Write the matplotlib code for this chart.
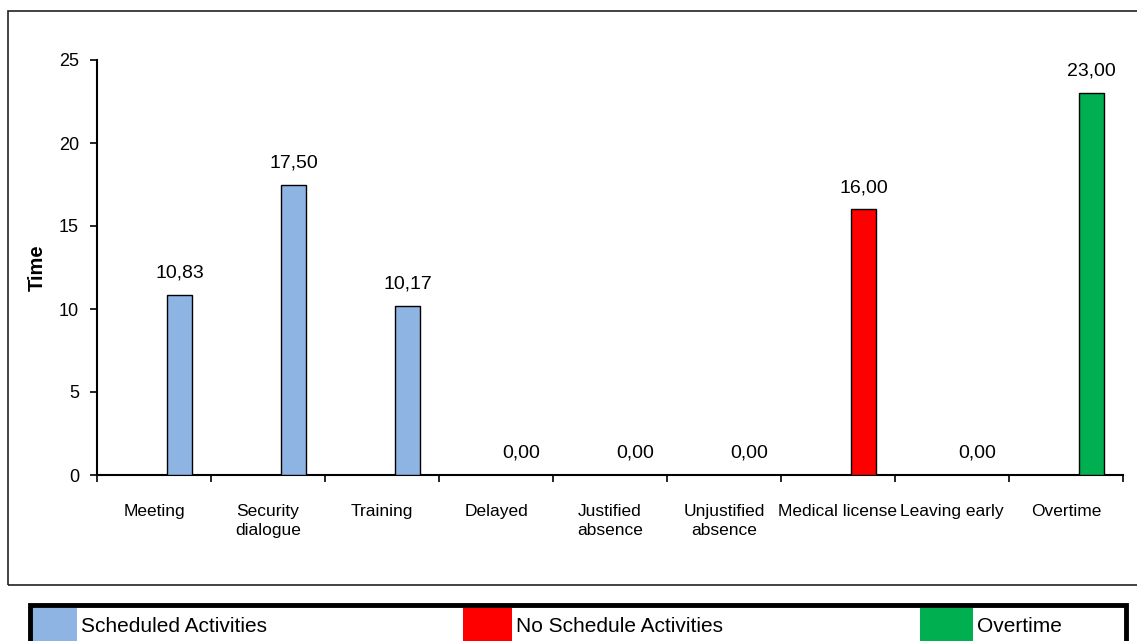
import matplotlib
matplotlib.use("Agg")
import matplotlib.pyplot as plt
from matplotlib.patches import Rectangle
from matplotlib import font_manager

categories = ["Meeting", "Security\ndialogue", "Training", "Delayed", "Justified\nabsence",
              "Unjustified\nabsence", "Medical license", "Leaving early", "Overtime"]
values = [10.83, 17.50, 10.17, 0.00, 0.00, 0.00, 16.00, 0.00, 23.00]
groups = ["sched", "sched", "sched", "sched", "sched", "sched", "nosched", "nosched", "over"]
legend_labels = ["Scheduled Activities", "No Schedule Activities", "Overtime"]
colors = {"sched": "#8EB4E3", "nosched": "#FF0000", "over": "#00B050"}
yticks = [0, 5, 10, 15, 20, 25]

names = {f.name for f in font_manager.fontManager.ttflist}
narrow = "Liberation Sans Narrow" if "Liberation Sans Narrow" in names else "Liberation Sans"

W, H = 1137, 641
fig = plt.figure(figsize=(W / 100, H / 100), dpi=100)

def fx(x): return x / W
def fy(y): return 1 - y / H

# outer frame
fig.patches.append(Rectangle((fx(8), fy(585)), fx(1150) - fx(8), fy(11) - fy(585),
                             transform=fig.transFigure, fill=False, lw=1.2, ec="#222222"))

ax = fig.add_axes([fx(97), fy(475), fx(1123) - fx(97), fy(60) - fy(475)])
offset = 0.224
width = 0.22
xs = [i + offset for i in range(len(categories))]
ax.bar(xs, values, width=width, color=[colors[g] for g in groups],
       edgecolor="black", linewidth=1.0, zorder=3)
for x, v in zip(xs, values):
    ax.text(x, v + 0.8, f"{v:.2f}".replace(".", ","), ha="center", va="bottom",
            fontsize=14, family=narrow)

ax.set_xlim(-0.5, len(categories) - 0.5)
ax.set_ylim(0, 25)
ax.set_yticks(yticks)
ax.set_yticklabels([str(t) for t in yticks], family=narrow, fontsize=13)
ax.set_xticks([i - 0.5 for i in range(len(categories) + 1)])
ax.set_xticklabels([])
ax.set_xticks(range(len(categories)), minor=True)
ax.set_xticklabels(categories, minor=True, family=narrow, fontsize=12.5, linespacing=1.35)
ax.tick_params(axis="x", which="minor", length=0, pad=21)
ax.tick_params(axis="x", which="major", length=5, width=1.2, direction="out")
ax.tick_params(axis="y", length=5, width=1.2, direction="out", pad=8)
for s in ["top", "right"]:
    ax.spines[s].set_visible(False)
ax.spines["left"].set_linewidth(1.5)
ax.spines["bottom"].set_linewidth(1.5)
ax.set_ylabel("Time", fontsize=14.5, fontweight="bold", family="Liberation Sans", labelpad=9)

# legend box
fig.patches.append(Rectangle((fx(30), fy(650)), fx(1126) - fx(30), fy(605) - fy(650),
                             transform=fig.transFigure, fill=False, lw=3.5, ec="black", zorder=5))
patches = [(32, 77, "sched"), (463, 512, "nosched"), (920, 973, "over")]
for (x0, x1, g), lab in zip(patches, legend_labels):
    fig.patches.append(Rectangle((fx(x0), fy(650)), fx(x1) - fx(x0), fy(608) - fy(650),
                                 transform=fig.transFigure, color=colors[g], lw=0, zorder=4))
    fig.text(fx(x1 + 4), fy(627), lab, ha="left", va="center", fontsize=15,
             family="Liberation Sans")

fig.savefig("out.png", dpi=100)
